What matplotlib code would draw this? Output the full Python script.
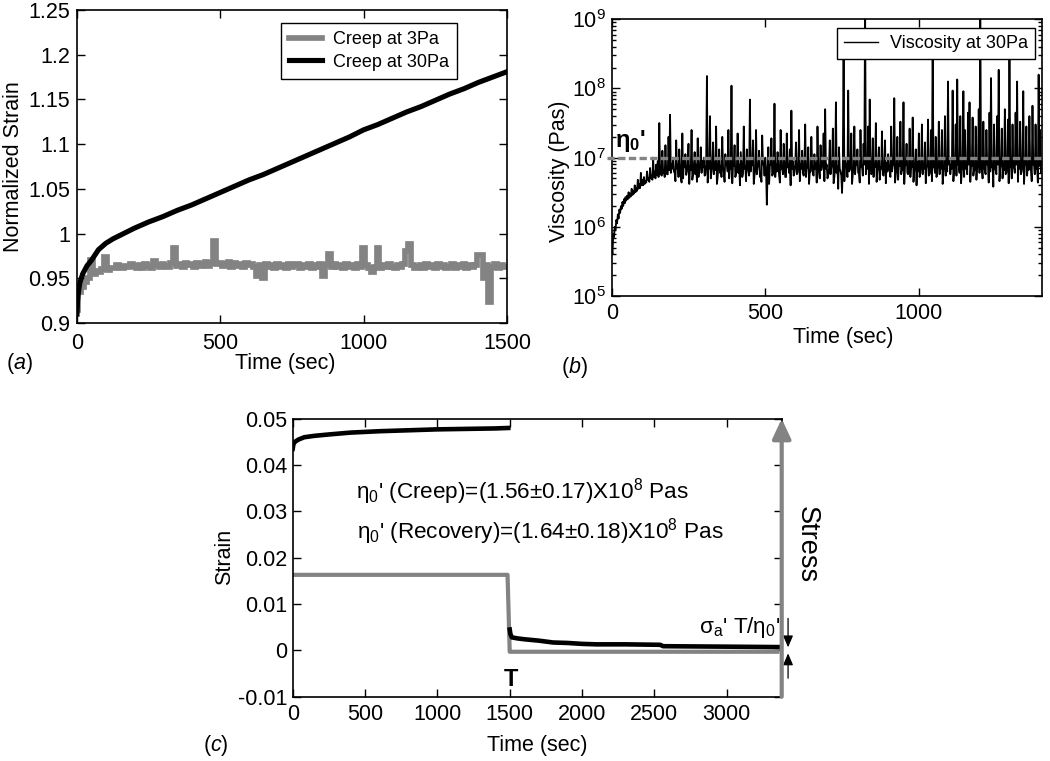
import numpy as np
import matplotlib
matplotlib.use("Agg")
import matplotlib.pyplot as plt
from matplotlib.lines import Line2D

plt.rcParams['font.family'] = ['Liberation Sans', 'DejaVu Sans']
plt.rcParams['mathtext.fontset'] = 'custom'
plt.rcParams['mathtext.rm'] = 'Liberation Sans'
plt.rcParams['mathtext.it'] = 'Liberation Sans:italic'
plt.rcParams['mathtext.bf'] = 'Liberation Sans:bold'
plt.rcParams['mathtext.sf'] = 'Liberation Sans'

GRAY = '#838383'

# ---------------- data: panel (a) ----------------
t_30pa = [0, 2, 5, 10, 20, 35, 50, 75, 100, 125, 150, 175, 200, 250, 300, 350, 400,
          450, 500, 550, 600, 650, 700, 750, 800, 850, 900, 950, 1000, 1050, 1100,
          1150, 1200, 1250, 1300, 1350, 1400, 1450, 1500]
strain_30pa = [0.910, 0.925, 0.935, 0.945, 0.955, 0.964, 0.970, 0.982, 0.989, 0.994,
               0.998, 1.002, 1.006, 1.013, 1.019, 1.026, 1.032, 1.039, 1.046, 1.053,
               1.060, 1.066, 1.073, 1.080, 1.087, 1.094, 1.101, 1.108, 1.116, 1.122,
               1.129, 1.136, 1.142, 1.149, 1.156, 1.162, 1.169, 1.175, 1.181]

t_3pa = np.arange(0, 1501, 10)
strain_3pa_milli = [
    915, 935, 940, 946, 950, 971, 955, 958, 957, 960,
    974, 959, 961, 962, 965, 963, 961, 964, 963, 966,
    964, 962, 965, 961, 966, 964, 962, 969, 965, 963,
    966, 964, 963, 967, 984, 964, 966, 963, 967, 965,
    966, 963, 967, 964, 966, 968, 964, 967, 992, 966,
    967, 964, 966, 968, 963, 967, 964, 966, 963, 967,
    965, 966, 963, 953, 965, 950, 966, 963, 965, 962,
    966, 963, 965, 962, 966, 963, 965, 966, 962, 965,
    963, 966, 962, 965, 963, 966, 953, 965, 977, 963,
    966, 963, 965, 962, 966, 963, 965, 962, 966, 963,
    984, 965, 962, 957, 963, 984, 962, 965, 963, 966,
    963, 962, 965, 963, 966, 980, 988, 965, 962, 963,
    965, 962, 966, 963, 965, 962, 966, 963, 965, 962,
    963, 966, 962, 965, 963, 966, 962, 965, 963, 965,
    976, 976, 950, 965, 923, 963, 966, 962, 965, 963,
    963]

a_xticks = [0, 500, 1000, 1500]
a_yticks = [0.9, 0.95, 1.0, 1.05, 1.1, 1.15, 1.2, 1.25]
a_yticklabels = ['0.9', '0.95', '1', '1.05', '1.1', '1.15', '1.2', '1.25']

# ---------------- data: panel (b) ----------------
# per 5-s window: first sample (with spikes) and a second, lower sample 2.5 s later
t_visc = np.arange(0, 1400, 5)
visc_a_log10_x100 = [
    570, 590, 600, 610, 618, 625, 630, 636, 640, 643, 645, 650, 648, 655, 652, 660, 656, 668, 662, 678,
    668, 672, 666, 680, 670, 685, 674, 700, 680, 690, 695, 750, 688, 710, 682, 718, 676, 730, 762, 690,
    700, 678, 725, 690, 712, 672, 735, 695, 705, 680, 720, 688, 740, 676, 708, 690, 728, 682, 715, 695,
    700, 675, 818, 690, 760, 680, 722, 694, 745, 672, 712, 688, 730, 678, 705, 692, 740, 685, 804, 690,
    718, 676, 735, 690, 708, 672, 745, 688, 712, 680, 784, 690, 725, 674, 740, 686, 710, 678, 732, 692,
    700, 632, 715, 688, 728, 676, 778, 690, 708, 675, 740, 685, 720, 672, 735, 690, 712, 768, 695, 680,
    722, 678, 740, 690, 710, 674, 748, 686, 715, 680, 730, 676, 705, 692, 745, 678, 718, 688, 735, 770,
    690, 675, 725, 685, 742, 672, 780, 688, 715, 680, 649, 870, 700, 690, 797, 682, 735, 676, 745, 690,
    712, 678, 740, 688, 720, 930, 690, 745, 784, 676, 728, 690, 750, 680, 715, 686, 738, 674, 725, 692,
    705, 680, 745, 688, 786, 676, 730, 690, 752, 682, 780, 688, 720, 676, 742, 690, 758, 680, 712, 694,
    735, 678, 748, 690, 722, 684, 755, 676, 740, 870, 688, 730, 680, 752, 692, 740, 678, 760, 686, 810,
    700, 690, 797, 685, 748, 813, 690, 760, 682, 796, 740, 688, 765, 780, 690, 758, 684, 745, 692, 770,
    930, 688, 752, 680, 740, 692, 765, 815, 690, 748, 682, 760, 827, 686, 742, 690, 770, 678, 755, 870,
    692, 748, 686, 765, 810, 690, 752, 680, 796, 688, 745, 692, 760, 684, 775, 690, 748, 686, 820, 740]
visc_b_log10_x100 = [
    560, 585, 596, 605, 612, 620, 626, 630, 634, 638, 640, 642, 644, 646, 648, 650, 652, 655, 656, 660,
    660, 662, 664, 668, 665, 670, 668, 672, 670, 675, 672, 676, 674, 678, 672, 680, 676, 682, 678, 684,
    680, 666, 684, 672, 688, 664, 670, 686, 675, 690, 662, 682, 668, 688, 676, 665, 672, 690, 678, 686,
    674, 690, 664, 684, 670, 688, 676, 682, 662, 690, 678, 672, 686, 665, 690, 680, 670, 684, 663, 688,
    672, 686, 678, 660, 690, 676, 684, 666, 688, 674, 680, 690, 662, 684, 676, 688, 672, 665, 690, 674,
    684, 676, 662, 690, 674, 686, 672, 680, 688, 664, 684, 676, 690, 672, 686, 678, 660, 684, 674, 690,
    676, 688, 666, 684, 678, 690, 672, 686, 662, 680, 690, 674, 684, 664, 688, 670, 682, 690, 666, 684,
    670, 684, 676, 690, 663, 686, 678, 655, 684, 674, 690, 666, 686, 672, 680, 688, 662, 684, 676, 690,
    678, 664, 686, 674, 690, 676, 684, 662, 688, 678, 672, 686, 665, 690, 668, 684, 676, 688, 663, 680,
    686, 672, 680, 690, 664, 684, 668, 688, 676, 682, 662, 690, 678, 684, 672, 686, 665, 690, 660, 680,
    672, 688, 676, 684, 663, 690, 674, 682, 666, 686, 678, 672, 690, 676, 684, 662, 688, 674, 680, 690,
    676, 684, 666, 688, 674, 690, 678, 663, 686, 672, 684, 676, 690, 665, 688, 674, 682, 668, 686, 678,
    684, 670, 688, 676, 690, 664, 680, 686, 658, 684, 676, 690, 666, 688, 670, 682, 676, 690, 663, 686,
    670, 686, 678, 690, 665, 684, 676, 688, 662, 690, 674, 682, 686, 666, 690, 676, 684, 664, 688, 678]
eta0_level = 1e7
b_xticks = [0, 500, 1000]
b_yticks = [1e5, 1e6, 1e7, 1e8, 1e9]
b_yticklabels = [r'$10^{5}$', r'$10^{6}$', r'$10^{7}$', r'$10^{8}$', r'$10^{9}$']

# ---------------- data: panel (c) ----------------
t_creep = [0, 5, 15, 40, 80, 150, 250, 400, 600, 800, 1000, 1200, 1400, 1490]
strain_creep = [0.0435, 0.0445, 0.0450, 0.0455, 0.0460, 0.0463, 0.0466, 0.0470,
                0.0473, 0.0475, 0.0477, 0.0478, 0.0479, 0.0480]
t_recov = [1500, 1505, 1515, 1550, 1600, 1700, 1800, 1900, 2000, 2100, 2300, 2540,
           2560, 3000, 3390]
strain_recov = [0.0045, 0.0035, 0.0028, 0.0026, 0.0024, 0.0021, 0.0017, 0.0016,
                0.0014, 0.0013, 0.0013, 0.0012, 0.0009, 0.0008, 0.0007]
t_stress = [0, 1485, 1500, 3350]
stress_level = [0.0163, 0.0163, -0.0003, -0.0003]
c_xticks = [0, 500, 1000, 1500, 2000, 2500, 3000]
c_yticks = [-0.01, 0, 0.01, 0.02, 0.03, 0.04, 0.05]
c_yticklabels = ['-0.01', '0', '0.01', '0.02', '0.03', '0.04', '0.05']

# ---------------- figure ----------------
W, H = 1050, 761
fig = plt.figure(figsize=(W / 100, H / 100), dpi=100)


def px_axes(x0, y0, x1, y1):
    return fig.add_axes([x0 / W, 1 - y1 / H, (x1 - x0) / W, (y1 - y0) / H])


def ftext(x, y, s, **kw):
    kw.setdefault('ha', 'center')
    kw.setdefault('va', 'center')
    return fig.text(x / W, 1 - y / H, s, **kw)


FS = 15.5


def style(ax, xpad=8, ypad=4):
    ax.tick_params(which='both', direction='in', top=True, right=True, labelsize=FS,
                   width=1.0)
    ax.tick_params(which='major', length=6)
    ax.tick_params(which='minor', length=3)
    ax.tick_params(axis='x', pad=xpad)
    ax.tick_params(axis='y', pad=ypad)
    for s in ax.spines.values():
        s.set_linewidth(1.2)


# ---- (a)
ax_a = px_axes(77, 10, 507, 323)
ax_a.plot(t_3pa, np.array(strain_3pa_milli) / 1000, color=GRAY, lw=4.1,
          drawstyle='steps-mid', label='Creep at 3Pa', solid_joinstyle='miter')
ax_a.plot(t_30pa, strain_30pa, color='black', lw=3.7, label='Creep at 30Pa')
ax_a.set_xlim(0, 1500)
ax_a.set_ylim(0.9, 1.25)
ax_a.set_xticks(a_xticks)
ax_a.set_xticklabels([str(v) for v in a_xticks])
ax_a.set_yticks(a_yticks)
ax_a.set_yticklabels(a_yticklabels)
style(ax_a, xpad=7, ypad=5)
leg = ax_a.legend(loc='upper right', bbox_to_anchor=(0.884, 0.958), fontsize=13,
                  frameon=True, fancybox=False, edgecolor='black', framealpha=1,
                  handlelength=1.85, handletextpad=0.6, labelspacing=0.3,
                  borderpad=0.45, borderaxespad=0)
leg.get_frame().set_linewidth(1.0)
ftext(13.5, 167, 'Normalized Strain', rotation=90, fontsize=FS)
ftext(285, 364, 'Time (sec)', fontsize=FS)
ftext(19, 364, r'($\mathit{a}$)', fontsize=FS)

# ---- (b)
ax_b = px_axes(611.7, 19.3, 1041.7, 296)
t_b = np.empty(2 * len(t_visc))
t_b[0::2] = t_visc
t_b[1::2] = t_visc + 2.5
v_b = np.empty(2 * len(t_visc))
v_b[0::2] = np.array(visc_a_log10_x100) / 100.0
v_b[1::2] = np.array(visc_b_log10_x100) / 100.0
ax_b.plot(t_b, 10 ** v_b, color='black', lw=1.3, label='Viscosity at 30Pa', zorder=2)
ax_b.plot([-16, 1400], [eta0_level, eta0_level], color=GRAY, lw=2.4,
          linestyle=(0, (2.2, 1.0)), clip_on=False, zorder=3)
ax_b.set_yscale('log')
ax_b.set_xlim(0, 1400)
ax_b.set_ylim(1e5, 1e9)
ax_b.set_xticks(b_xticks)
ax_b.set_xticklabels([str(v) for v in b_xticks])
ax_b.set_yticks(b_yticks)
ax_b.set_yticklabels(b_yticklabels)
style(ax_b, xpad=5, ypad=4)
ax_b.tick_params(axis='x', which='minor', bottom=False, top=False)
leg_b = ax_b.legend(handles=[Line2D([], [], color='black', lw=1.0)],
                    labels=['Viscosity at 30Pa'],
                    loc='upper right', bbox_to_anchor=(0.984, 0.9686), fontsize=13,
                    frameon=True, fancybox=False, edgecolor='black', framealpha=1,
                    handlelength=1.85, handletextpad=0.65, borderpad=0.4,
                    borderaxespad=0)
leg_b.get_frame().set_linewidth(1.0)
leg_b.set_zorder(5)
ftext(615, 141, r"$\mathbf{\eta}_\mathbf{0}$'", fontsize=17, fontweight='bold', ha='left')
ftext(560, 171, 'Viscosity (Pas)', rotation=90, fontsize=FS)
ftext(843, 337, 'Time (sec)', fontsize=FS)
ftext(574, 368, r'($\mathit{b}$)', fontsize=FS)

# ---- (c)
ax_c = px_axes(292.7, 418.7, 781.7, 696.7)
ax_c.plot(t_stress, stress_level, color=GRAY, lw=3.0, zorder=2)
ax_c.plot(t_creep, strain_creep, color='black', lw=3.3, zorder=3)
ax_c.plot(t_recov, strain_recov, color='black', lw=3.3, zorder=3)
XMAX = 3380
ax_c.set_xlim(0, XMAX)
ax_c.set_ylim(-0.01, 0.05)
ax_c.set_xticks(c_xticks)
ax_c.set_xticklabels([str(v) for v in c_xticks])
ax_c.set_yticks(c_yticks)
ax_c.set_yticklabels(c_yticklabels)
style(ax_c, xpad=5, ypad=4)
ax_c.annotate('', xy=(XMAX, 0.05), xytext=(XMAX, -0.01),
              arrowprops=dict(arrowstyle='-|>,head_length=0.6,head_width=0.28',
                              color=GRAY, lw=3, shrinkA=0, shrinkB=0,
                              mutation_scale=20),
              annotation_clip=False, zorder=6)
XA = XMAX + 44
ax_c.annotate('', xy=(XA, 0.00065), xytext=(XA, 0.0069),
              arrowprops=dict(arrowstyle='-|>,head_length=0.7,head_width=0.3',
                              color='black', lw=0.9, shrinkA=0, shrinkB=0,
                              mutation_scale=10),
              annotation_clip=False)
ax_c.annotate('', xy=(XA, -0.00065), xytext=(XA, -0.006),
              arrowprops=dict(arrowstyle='-|>,head_length=0.7,head_width=0.3',
                              color='black', lw=0.9, shrinkA=0, shrinkB=0,
                              mutation_scale=10),
              annotation_clip=False)
ftext(356, 492, r"$\mathrm{\eta}_0$' (Creep)=(1.56$\pm$0.17)X10$^8$ Pas",
      fontsize=16.2, ha='left')
ftext(357, 532, r"$\mathrm{\eta}_0$' (Recovery)=(1.64$\pm$0.18)X10$^8$ Pas",
      fontsize=16.2, ha='left')
ftext(780, 633, r"$\mathrm{\sigma}_\mathrm{a}$' T/$\mathrm{\eta}_0$'", fontsize=16.2,
      ha='right', va='baseline')
ftext(807, 545, 'Stress', rotation=-90, fontsize=19.5)
ftext(511, 680, 'T', fontsize=17, fontweight='bold')
ftext(225, 557, 'Strain', rotation=90, fontsize=FS)
ftext(537, 746, 'Time (sec)', fontsize=FS)
ftext(216, 745, r'($\mathit{c}$)', fontsize=FS)

fig.savefig('out.png', dpi=100)
